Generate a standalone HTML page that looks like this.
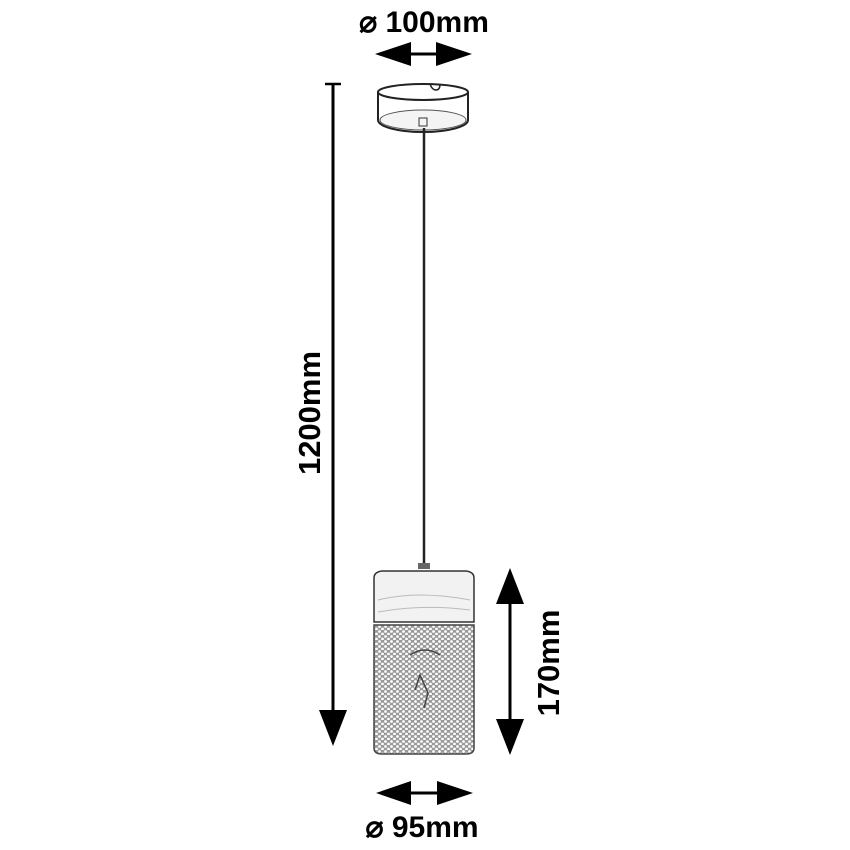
<!DOCTYPE html>
<html><head><meta charset="utf-8"><style>
html,body{margin:0;padding:0;background:#fff;}
svg{display:block;}
text{font-family:"Liberation Sans",sans-serif;font-weight:bold;fill:#000;}
</style></head><body>
<svg width="850" height="850" viewBox="0 0 850 850" xmlns="http://www.w3.org/2000/svg">
<defs>
<pattern id="mesh" width="6" height="5" patternUnits="userSpaceOnUse">
<rect width="6" height="5" fill="#9a9a9a"/>
<circle cx="1.5" cy="1.5" r="1.4" fill="#fff"/>
<circle cx="4.5" cy="4" r="1.4" fill="#fff"/>
</pattern>
</defs>
<text x="424" y="32" font-size="30" text-anchor="middle">⌀ 100mm</text>
<line x1="395" y1="54" x2="452" y2="54" stroke="#000" stroke-width="3"/>
<polygon points="375,54 411,42 411,66" fill="#000"/>
<polygon points="472,54 436,42 436,66" fill="#000"/>
<path d="M378,92 L378,120 A45,12 0 0 0 468,120 L468,92" fill="#fff" stroke="#222" stroke-width="2"/>
<ellipse cx="423" cy="92" rx="45" ry="8" fill="#fff" stroke="#222" stroke-width="2"/>
<ellipse cx="423" cy="120" rx="43" ry="10" fill="#f4f4f4" stroke="#555" stroke-width="1"/>
<path d="M430,84 q2,6 6,6 q4,0 4,-6" fill="none" stroke="#222" stroke-width="1.5"/>
<rect x="419" y="118" width="8" height="8" fill="none" stroke="#333" stroke-width="1"/>
<line x1="424" y1="128" x2="424" y2="566" stroke="#222" stroke-width="2.5"/>
<rect x="418" y="563" width="12" height="6" fill="#666"/>
<line x1="325" y1="84" x2="341" y2="84" stroke="#000" stroke-width="2.5"/>
<line x1="333" y1="84" x2="333" y2="715" stroke="#000" stroke-width="3"/>
<polygon points="319,710 347,710 333,746" fill="#000"/>
<text x="0" y="0" font-size="31" text-anchor="middle" transform="translate(320,413) rotate(-90)">1200mm</text>
<path d="M374,578 q0,-6 8,-7 l84,0 q8,1 8,7 L474,622 L374,622 Z" fill="#f2f2f2" stroke="#333" stroke-width="1.5"/>
<path d="M378,600 q40,-10 92,0 M378,612 q45,-8 92,-2" fill="none" stroke="#bbb" stroke-width="1"/>
<path d="M374,625 L474,625 L474,748 q0,6 -8,6 L382,754 q-8,0 -8,-6 Z" fill="url(#mesh)" stroke="#444" stroke-width="1.5"/>
<path d="M410,655 q15,-10 30,0 M415,690 l5,-15 l8,18 l-4,15" fill="none" stroke="#444" stroke-width="1.5"/>
<line x1="510" y1="600" x2="510" y2="725" stroke="#000" stroke-width="3"/>
<polygon points="510,568 496,604 524,604" fill="#000"/>
<polygon points="510,755 496,719 524,719" fill="#000"/>
<text x="0" y="0" font-size="31" text-anchor="middle" transform="translate(559,663) rotate(-90)">170mm</text>
<line x1="395" y1="793" x2="452" y2="793" stroke="#000" stroke-width="3"/>
<polygon points="376,793 411,781 411,805" fill="#000"/>
<polygon points="473,793 437,781 437,805" fill="#000"/>
<text x="422" y="837" font-size="30" text-anchor="middle">⌀ 95mm</text>
</svg>
</body></html>
